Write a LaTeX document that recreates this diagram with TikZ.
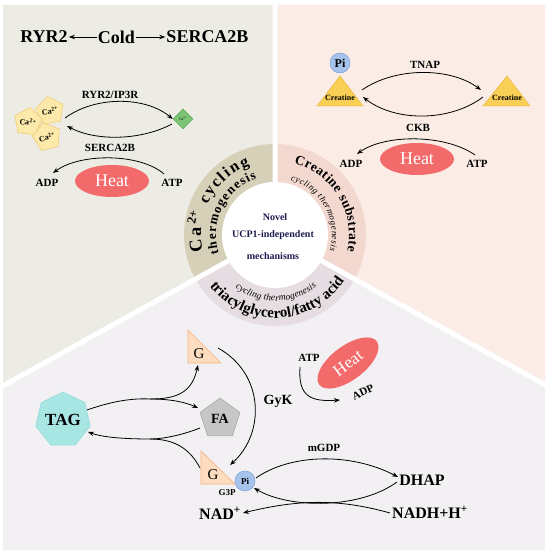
\documentclass[tikz,border=0pt]{standalone}
\usepackage{fontspec}
\setmainfont{Liberation Serif}
\usetikzlibrary{shapes.geometric,decorations.text,arrows.meta}
\definecolor{bgL}{RGB}{237,236,228}
\definecolor{bgR}{RGB}{251,237,230}
\definecolor{bgB}{RGB}{243,240,244}
\definecolor{ringL}{RGB}{214,208,184}
\definecolor{ringR}{RGB}{243,216,208}
\definecolor{ringB}{RGB}{229,221,226}
\definecolor{heat}{RGB}{242,106,106}
\definecolor{caFill}{RGB}{253,234,170}
\definecolor{caLine}{RGB}{240,205,120}
\definecolor{grn}{RGB}{125,197,118}
\definecolor{grnLine}{RGB}{90,165,85}
\definecolor{crea}{RGB}{250,207,85}
\definecolor{creaLine}{RGB}{235,185,60}
\definecolor{piFill}{RGB}{165,195,235}
\definecolor{piLine}{RGB}{120,160,215}
\definecolor{tagFill}{RGB}{168,230,228}
\definecolor{tagLine}{RGB}{140,215,215}
\definecolor{faFill}{RGB}{198,198,198}
\definecolor{faLine}{RGB}{165,165,165}
\definecolor{gFill}{RGB}{253,220,192}
\definecolor{gLine}{RGB}{244,178,130}
\definecolor{navy}{RGB}{30,30,80}
\begin{document}
\begin{tikzpicture}[x=1pt,y=1pt,
  lbl/.style={font=\fontsize{11}{11}\selectfont\bfseries,inner sep=1pt},
  big/.style={font=\fontsize{16}{16}\selectfont\bfseries,inner sep=1pt},
  navytxt/.style={font=\fontsize{10}{10}\selectfont\bfseries,text=navy,inner sep=1pt},
  arr/.style={line width=0.8pt,-{Stealth[length=6pt,width=4.5pt]}},
  ln/.style={line width=0.8pt},
  heatE/.style={ellipse,fill=heat,minimum width=74pt,minimum height=32pt,inner sep=0pt,text=white,font=\fontsize{18}{18}\selectfont},
  capent/.style={regular polygon,regular polygon sides=5,minimum size=27pt,inner sep=0pt,fill=caFill,draw=caLine,line width=0.6pt,font=\fontsize{8}{8}\selectfont\bfseries},
  piball/.style={circle,minimum size=20pt,inner sep=0pt,fill=piFill,draw=piLine,line width=0.5pt,font=\fontsize{11}{11}\selectfont\bfseries},
  gtri/.style={fill=gFill,draw=gLine,line width=0.6pt},
  creatri/.style={fill=crea,draw=creaLine,line width=0.5pt},
]
\useasboundingbox (0,0) rectangle (550,554);
\fill[white] (0,0) rectangle (550,554);
% panels
\fill[bgB] (3,4) rectangle (545,549);
\fill[bgL] (3,549) -- (275,549) -- (275,319) -- (3,168) -- cycle;
\fill[bgR] (275,549) -- (545,549) -- (545,169) -- (275,319) -- cycle;
% ring
\coordinate (C) at (275,319);
\fill[ringL] (C) -- ++(90:91) arc[start angle=90,end angle=209,radius=91] -- cycle;
\fill[ringR] (C) -- ++(-29:91) arc[start angle=-29,end angle=90,radius=91] -- cycle;
\fill[ringB] (C) -- ++(209:91) arc[start angle=209,end angle=331,radius=91] -- cycle;
\begin{scope}
\clip (3,4) rectangle (545,549);
\draw[white,line width=5pt] (C) -- ++(90:240) (C) -- ++(209:330) (C) -- ++(331:330);
\end{scope}
\fill[white] (C) circle[radius=53];
% center text
\node[navytxt] (n1) at (275,337) {Novel};
\node[navytxt] (n2) at (273,319) {UCP1-independent};
\node[navytxt] (n3) at (273,298) {mechanisms};
% ring texts
\begin{scope}[shift={(275,319)}]
\path[decorate,decoration={text along path,text align=fit to path,
  text={|\fontsize{18}{18}\selectfont\bfseries|Ca{\textsuperscript{2+}}|\fontsize{16}{16}\selectfont\bfseries| cycling}}]
  (193:74) arc[start angle=193,end angle=110,radius=74];
\path[decorate,decoration={text along path,text align=fit to path,
  text={|\fontsize{13}{13}\selectfont\bfseries|thermogenesis}}]
  (198:59) arc[start angle=198,end angle=108,radius=59];
\path[decorate,decoration={text along path,text align=fit to path,
  text={|\fontsize{13.5}{13.5}\selectfont\bfseries|Creatine substrate}}]
  (75:74) arc[start angle=75,end angle=-13,radius=74];
\path[decorate,decoration={text along path,text align=fit to path,
  text={|\fontsize{9}{9}\selectfont\itshape|cycling thermogenesis}}]
  (74:57) arc[start angle=74,end angle=-16,radius=57];
\path[decorate,decoration={text along path,text align=fit to path,
  text={|\fontsize{15}{15}\selectfont\bfseries|triacylglycerol/fatty acid}}]
  (218:83) arc[start angle=218,end angle=324,radius=83];
\path[decorate,decoration={text along path,text align=fit to path,
  text={|\fontsize{9.5}{9.5}\selectfont\itshape|cycling thermogenesis}}]
  (233:66) arc[start angle=233,end angle=309,radius=66];
\end{scope}
% ---------- top-left ----------
\node[font=\fontsize{18}{18}\selectfont\bfseries,inner sep=1pt] (ryr) at (44,517) {RYR2};
\node[font=\fontsize{18}{18}\selectfont\bfseries,inner sep=1pt] (cold) at (116.5,517) {Cold};
\node[font=\fontsize{18}{18}\selectfont\bfseries,inner sep=1pt] (serca) at (207.5,517) {SERCA2B};
\draw[arr] (cold.west) -- (ryr.east);
\draw[arr] (cold.east) -- (serca.west);
\node[capent,rotate=10] (p1) at (50,443) {Ca\textsuperscript{2+}};
\node[capent,rotate=-8] (p2) at (28,432) {Ca\textsuperscript{2+}};
\node[capent,rotate=15] (p3) at (47,417) {Ca\textsuperscript{2+}};
\node[diamond,aspect=1,minimum width=20pt,minimum height=20pt,inner sep=0pt,fill=grn,draw=grnLine,line width=0.5pt,font=\fontsize{4}{4}\selectfont] (dia) at (183,435) {Ca\textsuperscript{2+}};
\coordinate (s1) at (65,436);
\coordinate (s2) at (172,430);
\coordinate (e2) at (67,428);
\draw[arr] (s1) .. controls (95,458) and (145,458) .. (dia.west);
\draw[arr] (s2) .. controls (140,413) and (95,413) .. (e2);
\node[lbl] (ryrip) at (110,459) {RYR2/IP3R};
\node[lbl] (sercal) at (110,406) {SERCA2B};
\node[heatE] (heat1) at (112,373) {Heat};
\node[lbl] (adp1) at (47,371) {ADP};
\node[lbl] (atp1) at (172,371) {ATP};
\coordinate (s3) at (164,380);
\coordinate (e3) at (53,381);
\draw[arr] (s3) .. controls (140,401) and (80,401) .. (e3);
% ---------- top-right ----------
\fill[creatri] (317,448) -- (340,478) -- (363,448) -- cycle;
\fill[creatri] (483,448) -- (507,478) -- (530,448) -- cycle;
\node[font=\fontsize{8}{8}\selectfont\bfseries,inner sep=0pt] (cr1) at (340,456) {Creatine};
\node[font=\fontsize{8}{8}\selectfont\bfseries,inner sep=0pt] (cr2) at (507,456) {Creatine};
\node[piball,font=\fontsize{12}{12}\selectfont\bfseries] (pi1) at (340,491) {Pi};
\node[lbl] (tnap) at (425,489) {TNAP};
\coordinate (s4) at (362,464);
\coordinate (e4) at (481,464);
\coordinate (s5) at (483,457);
\coordinate (e5) at (363,457);
\draw[arr] (s4) .. controls (395,487) and (450,487) .. (e4);
\draw[arr] (s5) .. controls (450,432) and (395,432) .. (e5);
\node[lbl] (ckb) at (418,426) {CKB};
\node[heatE] (heat2) at (417,395) {Heat};
\node[lbl] (adp2) at (351,390) {ADP};
\node[lbl] (atp2) at (477,390) {ATP};
\coordinate (s6) at (475,399);
\coordinate (e6) at (357,400);
\draw[arr] (s6) .. controls (445,420) and (385,420) .. (e6);
% ---------- bottom ----------
\node[regular polygon,regular polygon sides=7,minimum size=47pt,inner sep=0pt,fill=tagFill,draw=tagLine,line width=0.5pt,font=\fontsize{17}{17}\selectfont\bfseries] (tag) at (63,134) {TAG};
\node[regular polygon,regular polygon sides=5,minimum size=42pt,inner sep=0pt,fill=faFill,draw=faLine,line width=0.5pt,font=\fontsize{14}{14}\selectfont\bfseries] (fa) at (220,135) {FA};
\filldraw[gtri] (188,224) -- (188,191) -- (221,191) -- cycle;
\filldraw[gtri] (201,103) -- (201,70) -- (235,70) -- cycle;
\node[font=\fontsize{15}{15}\selectfont,inner sep=0pt] (g1) at (199,200) {G};
\node[font=\fontsize{15}{15}\selectfont,inner sep=0pt] (g2) at (213,79) {G};
\node[font=\fontsize{9}{9}\selectfont\bfseries,inner sep=0pt] (g3p) at (227,61) {G3P};
\node[piball,font=\fontsize{9}{9}\selectfont\bfseries] (pi2) at (245,73) {Pi};
\coordinate (t0) at (87,144);
\coordinate (br1) at (150,155);
\coordinate (tg) at (198,189);
\coordinate (tf) at (198,146);
\coordinate (ft) at (200,126);
\coordinate (br2) at (150,115);
\coordinate (tt) at (88,122);
\coordinate (gs) at (200,86);
\coordinate (g1s) at (218,206);
\coordinate (g3e) at (230,89);
\draw[ln] (t0) .. controls (110,152) and (130,156) .. (br1);
\draw[arr] (br1) .. controls (178,155) and (192,162) .. (tg);
\draw[arr] (br1) .. controls (170,155) and (185,152) .. (tf);
\draw[ln] (ft) .. controls (185,120) and (165,115) .. (br2);
\draw[ln] (gs) .. controls (190,105) and (175,115) .. (br2);
\draw[arr] (br2) .. controls (130,115) and (105,116) .. (tt);
\draw[arr] (g1s) .. controls (265,180) and (265,120) .. (g3e);
\node[font=\fontsize{14}{14}\selectfont\bfseries,inner sep=1pt] (gyk) at (278,153) {GyK};
\node[lbl] (atp3) at (309,196) {ATP};
\node[heatE,rotate=37,minimum width=72pt,minimum height=34pt,font=\fontsize{17}{17}\selectfont] (heat3) at (348,191) {Heat};
\node[lbl,rotate=25] (adp3) at (363,162) {ADP};
\coordinate (a3s) at (300,187);
\coordinate (a3e) at (340,154);
\draw[arr] (a3s) .. controls (298,158) and (310,152) .. (a3e);
\node[lbl] (mgdp) at (324,106) {mGDP};
\node[big] (dhap) at (422,74) {DHAP};
\node[big] (nadh) at (430,42) {NADH+H\textsuperscript{+}};
\node[big] (nad) at (220,41) {NAD\textsuperscript{+}};
\coordinate (m1s) at (256,76);
\coordinate (m1e) at (398,77);
\coordinate (m2s) at (397,72);
\coordinate (m2e) at (254,66);
\coordinate (n1s) at (390,41);
\coordinate (n1e) at (243,41);
\draw[arr] (m1s) .. controls (290,100) and (350,102) .. (m1e);
\draw[arr] (m2s) .. controls (360,45) and (290,45) .. (m2e);
\draw[arr] (n1s) .. controls (340,55) and (300,55) .. (n1e);
\end{tikzpicture}
\end{document}
